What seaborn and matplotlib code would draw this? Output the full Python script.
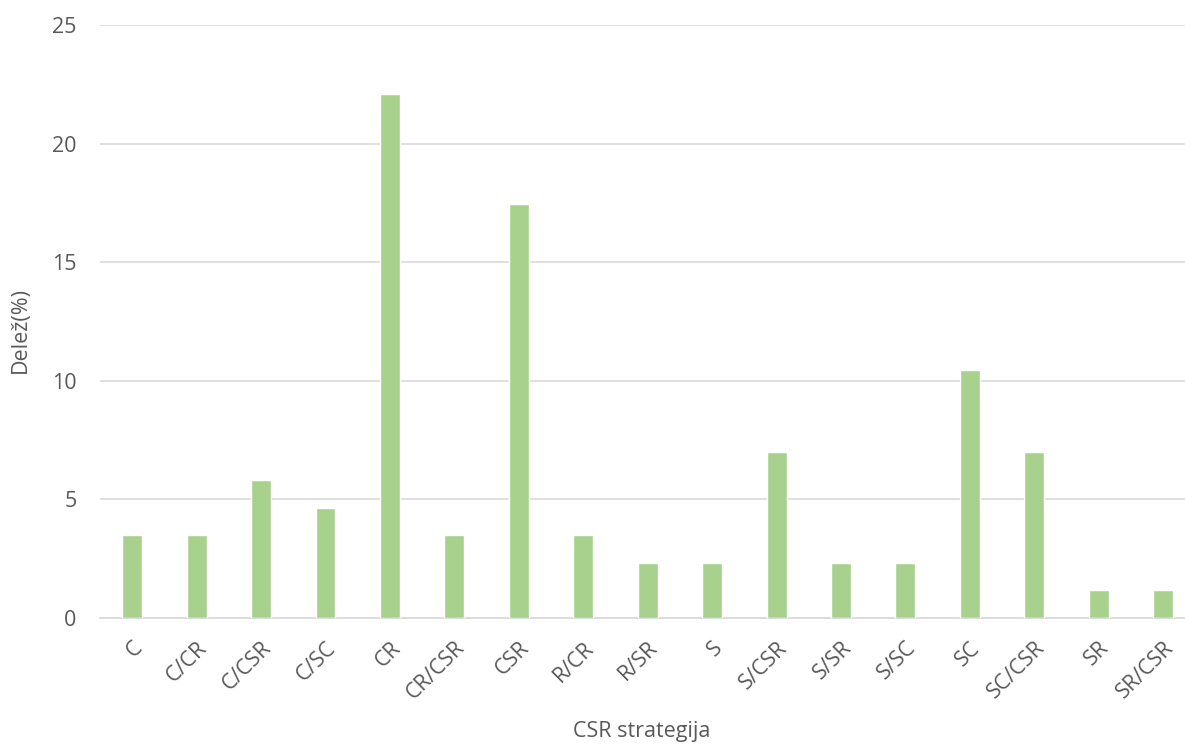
import pandas as pd
import seaborn as sns
import matplotlib.pyplot as plt

strategije = ["C", "C/CR", "C/CSR", "C/SC", "CR", "CR/CSR", "CSR", "R/CR", "R/SR",
              "S", "S/CSR", "S/SR", "S/SC", "SC", "SC/CSR", "SR", "SR/CSR"]
delez = [3.49, 3.49, 5.81, 4.65, 22.09, 3.49, 17.44, 3.49, 2.33,
         2.33, 6.98, 2.33, 2.33, 10.47, 6.98, 1.16, 1.16]

df = pd.DataFrame({"Strategija": strategije, "Delez": delez})

sns.set_style("white")
plt.rcParams["font.family"] = ["Open Sans", "DejaVu Sans"]

txt = "#595959"
fig = plt.figure(figsize=(11.85, 7.45), dpi=100)
ax = fig.add_axes([100 / 1185, 127 / 745, 1085 / 1185, 593 / 745])

sns.barplot(data=df, x="Strategija", y="Delez", color="#A9D18E", width=0.31,
            saturation=1, ax=ax, zorder=3)

ax.set_ylim(0, 25)
ax.set_xlim(-0.5, 16.34)
ax.set_yticks([0, 5, 10, 15, 20, 25])
ax.yaxis.grid(True, color="#D9D9D9", linewidth=1.2, zorder=0)
for s in ["top", "right", "left"]:
    ax.spines[s].set_visible(False)
ax.spines["bottom"].set_color("#D9D9D9")
ax.spines["bottom"].set_linewidth(1.2)

ax.tick_params(axis="y", length=0, labelsize=15.5, colors=txt, pad=17)
ax.tick_params(axis="x", length=0, labelsize=15.5, colors=txt, pad=14)
plt.setp(ax.get_xticklabels(), rotation=45, ha="right", rotation_mode="anchor")

ax.set_xlabel("CSR strategija", fontsize=15.5, color=txt, va="center")
ax.set_ylabel("Delež(%)", fontsize=15.5, color=txt, va="center")
ax.xaxis.set_label_coords(0.499, -0.192)
ax.yaxis.set_label_coords(-0.0737, 0.486)

fig.savefig("out.png", dpi=100)
